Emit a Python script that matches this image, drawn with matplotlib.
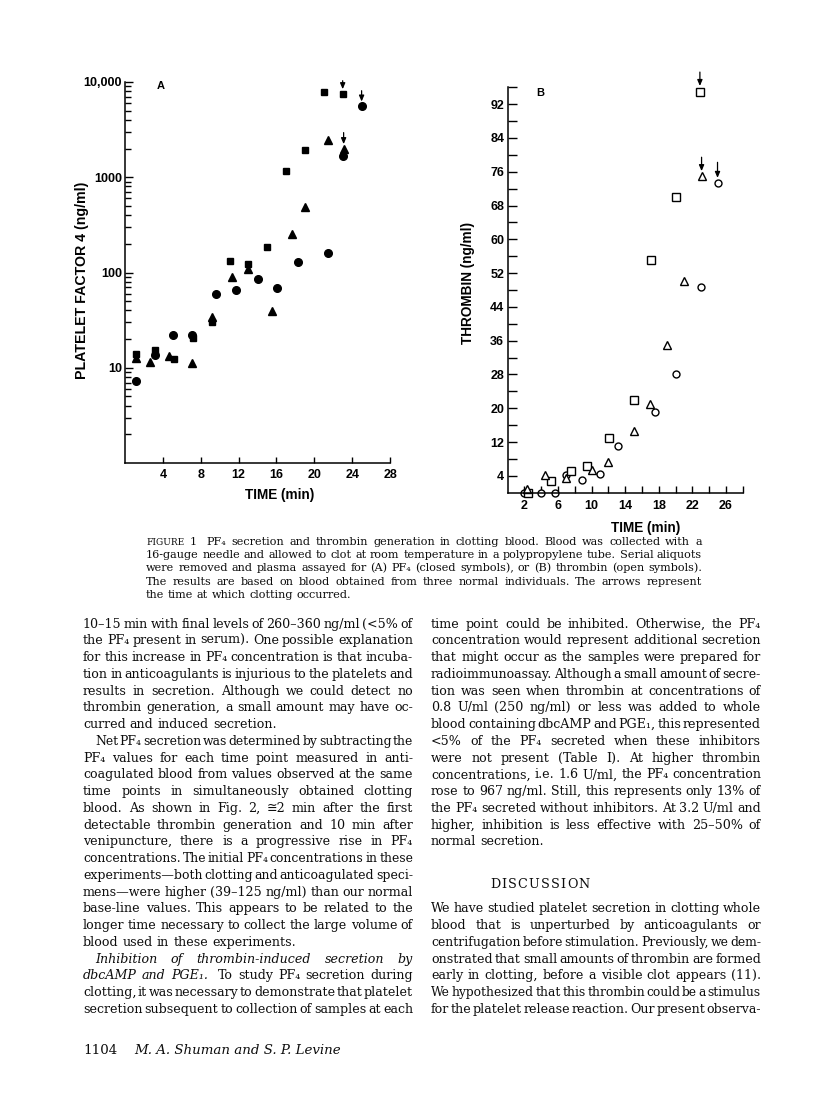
import matplotlib
matplotlib.use("Agg")
import matplotlib.pyplot as plt
from matplotlib.transforms import IdentityTransform
from matplotlib.ticker import FixedLocator, LogLocator, NullFormatter, FixedFormatter

W, H = 816, 1118

# ---- Panel A: PF4 (closed symbols), log scale ----
a_circ_t = [1.2, 3.2, 5.1, 7.1, 9.6, 11.7, 14.0, 16.1, 18.3, 21.5, 23.0, 25.0]
a_circ_v = [7.3, 13.6, 22, 22, 59, 65, 85, 68, 129, 160, 1680, 5600]
a_sq_t = [1.2, 3.2, 5.2, 7.2, 9.2, 11.1, 13.0, 15.0, 17.0, 19.0, 21.0, 23.0]
a_sq_v = [13.8, 15.2, 12.5, 20.5, 30, 131, 123, 184, 1150, 1930, 7800, 7500]
a_tri_t = [1.2, 2.6, 4.6, 7.1, 9.2, 11.3, 13.0, 15.5, 17.6, 19.0, 21.5, 23.1]
a_tri_v = [12.7, 11.6, 13.4, 11.1, 34, 89, 108, 39, 256, 490, 2450, 2000]

# ---- Panel B: thrombin (open symbols) ----
b_circ_t = [2.0, 4.0, 5.6, 7.0, 8.9, 11.0, 13.1, 17.5, 20.1, 23.0, 25.0]
b_circ_v = [0, 0, 0, 4.1, 3.0, 4.5, 11, 19, 28, 48.8, 73.3]
b_sq_t = [2.4, 5.1, 7.6, 9.5, 12.1, 15.1, 17.1, 20.0, 22.9]
b_sq_v = [0, 2.7, 5.1, 6.4, 13, 22, 55, 70, 95]
b_tri_t = [2.3, 4.5, 7.0, 10.0, 12.0, 15.1, 17.0, 19.0, 21.0, 23.1]
b_tri_v = [0.9, 4.1, 3.5, 5.3, 7.3, 14.7, 21, 35, 50.2, 75]

a_yticks = [10, 100, 1000, 10000]
a_ylabels = ["10", "100", "1000", "10,000"]
a_xticks = [4, 8, 12, 16, 20, 24, 28]
b_xlabels = [2, 6, 10, 14, 18, 22, 26]
b_ylabels = [4, 12, 20, 28, 36, 44, 52, 60, 68, 76, 84, 92]

SANS = ["Liberation Sans", "DejaVu Sans"]
SERIF = ["DejaVu Serif", "DejaVu Sans"]
INK = "#0d0d0d"

fig = plt.figure(figsize=(W / 100, H / 100), dpi=100)
fig.patch.set_facecolor("white")


def ax_rect(x0, x1, ytop, ybot):
    return [x0 / W, (H - ybot) / H, (x1 - x0) / W, (ybot - ytop) / H]


def style_axes(ax):
    for s in ["top", "right"]:
        ax.spines[s].set_visible(False)
    for s in ["left", "bottom"]:
        ax.spines[s].set_linewidth(1.1)
    ax.tick_params(which="both", direction="in", width=1.0, colors="black")
    for lab in ax.get_xticklabels() + ax.get_yticklabels():
        lab.set_fontfamily(SANS)
        lab.set_fontweight("bold")
        lab.set_fontsize(9)


def clot_arrow(ax, x, y, off, gap):
    ax.annotate("", xy=(x, y), xytext=(0, off), textcoords="offset points",
                annotation_clip=False,
                arrowprops=dict(arrowstyle="-|>,head_length=0.35,head_width=0.15",
                                color="black", lw=0.9, shrinkA=0, shrinkB=gap))


# ---------- Panel A ----------
axA = fig.add_axes(ax_rect(125, 390, 82, 463))
axA.set_yscale("log")
kw = dict(ls="none", color="black", clip_on=False)
axA.plot(a_circ_t, a_circ_v, "o", ms=5.5, **kw)
axA.plot(a_sq_t, a_sq_v, "s", ms=5.0, **kw)
axA.plot(a_tri_t, a_tri_v, "^", ms=6, **kw)
axA.set_xlim(0, 28)
axA.set_ylim(1, 10000)
axA.xaxis.set_major_locator(FixedLocator(a_xticks))
axA.yaxis.set_major_locator(FixedLocator(a_yticks))
axA.yaxis.set_major_formatter(FixedFormatter(a_ylabels))
axA.yaxis.set_minor_locator(LogLocator(base=10, subs=range(2, 10)))
axA.yaxis.set_minor_formatter(NullFormatter())
axA.tick_params(axis="y", which="major", length=6, pad=2)
axA.tick_params(axis="y", which="minor", length=4.5, width=0.9)
axA.tick_params(axis="x", which="major", length=4.5, pad=4)
style_axes(axA)
axA.set_xlabel("TIME (min)", fontfamily=SANS, fontweight="bold", fontsize=9.8)
axA.xaxis.set_label_coords(0.585, -0.066)
axA.set_ylabel("PLATELET FACTOR 4 (ng/ml)", fontfamily=SANS, fontweight="bold", fontsize=10.2)
axA.yaxis.set_label_coords(-0.135, 0.48)
axA.text(0.135, 0.99, "A", transform=axA.transAxes, fontfamily=SANS,
         fontweight="bold", fontsize=8, va="center", ha="center")
clot_arrow(axA, a_sq_t[-1], a_sq_v[-1], 9.5, 3.4)
clot_arrow(axA, a_circ_t[-1], a_circ_v[-1], 11, 3.2)
clot_arrow(axA, a_tri_t[-1], a_tri_v[-1], 11.5, 3.2)

# ---------- Panel B ----------
axB = fig.add_axes(ax_rect(507.7, 742.7, 87.3, 492.7))
okw = dict(ls="none", mfc="white", mec="black", mew=1.0, clip_on=False)
axB.plot(b_circ_t, b_circ_v, "o", ms=5, **okw)
axB.plot(b_sq_t, b_sq_v, "s", ms=5.4, **okw)
axB.plot(b_tri_t, b_tri_v, "^", ms=6.2, **okw)
axB.set_xlim(0, 28)
axB.set_ylim(0, 96)
axB.xaxis.set_major_locator(FixedLocator(b_xlabels))
axB.xaxis.set_minor_locator(FixedLocator(range(4, 29, 4)))
axB.yaxis.set_major_locator(FixedLocator(b_ylabels))
axB.yaxis.set_minor_locator(FixedLocator(range(8, 97, 8)))
axB.tick_params(axis="y", which="both", length=6.5, pad=2.5)
axB.tick_params(axis="x", which="both", length=5, pad=5)
axB.tick_params(which="minor", width=1.0)
style_axes(axB)
axB.set_xlabel("TIME (min)", fontfamily=SANS, fontweight="bold", fontsize=9.8)
axB.xaxis.set_label_coords(0.589, -0.069)
axB.set_ylabel("THROMBIN (ng/ml)", fontfamily=SANS, fontweight="bold", fontsize=9.8)
axB.yaxis.set_label_coords(-0.139, 0.517)
axB.text(0.139, 0.985, "B", transform=axB.transAxes, fontfamily=SANS,
         fontweight="bold", fontsize=8, va="center", ha="center")
clot_arrow(axB, b_sq_t[-1], b_sq_v[-1], 14, 4)
clot_arrow(axB, b_tri_t[-1], b_tri_v[-1], 13.5, 3.5)
clot_arrow(axB, b_circ_t[-1], b_circ_v[-1], 15, 3.8)

# ---------- page text ----------
renderer = fig.canvas.get_renderer()
ID = IdentityTransform()


def make_words(toks, size, style, family):
    objs, widths = [], []
    for tok in toks:
        st, sz = style, size
        if tok.startswith("_"):
            tok, st = tok[1:], "italic"
        if tok.startswith("^"):
            tok, sz = tok[1:], size * 0.8
        t = fig.text(0, 0, tok, fontsize=sz, fontstyle=st, fontfamily=family,
                     transform=ID, va="baseline", ha="left", color=INK)
        objs.append(t)
        widths.append(t.get_window_extent(renderer).width if tok else 0)
    return objs, widths


def draw_line(x0, x1, y, text, size, justify=True, family=SERIF, style="normal"):
    toks = text.split(" ")
    n = len(toks)
    objs, widths = make_words(toks, size, style, family)
    space = size * 100 / 72 * 0.32
    # squeeze font slightly if the line would not fit with a minimal gap
    need = sum(widths) + (n - 1) * space * 0.4
    if justify and need > x1 - x0:
        for t in objs:
            t.remove()
        size = size * (x1 - x0) / need
        space = size * 100 / 72 * 0.32
        objs, widths = make_words(toks, size, style, family)
    if justify and n > 1:
        gap = (x1 - x0 - sum(widths)) / (n - 1)
    else:
        gap = space
    x = x0
    for t, w in zip(objs, widths):
        t.set_position((x, H - y - 3.6))
        x += w + gap


def draw_column(x0, x1, y0, lines, size, step=16.75):
    for i, ln in enumerate(lines):
        if ln is None:
            continue
        txt, just, indent = ln
        draw_line(x0 + indent, x1, y0 + i * step, txt, size, just)


caption = [
    "^FIGURE 1  PF₄ secretion and thrombin generation in clotting blood. Blood was collected with a",
    "16-gauge needle and allowed to clot at room temperature in a polypropylene tube. Serial aliquots",
    "were removed and plasma assayed for (A) PF₄ (closed symbols), or (B) thrombin (open symbols).",
    "The results are based on blood obtained from three normal individuals. The arrows represent",
    "the time at which clotting occurred.",
]
for i, ln in enumerate(caption):
    draw_line(146, 702, 541 + i * 13.4, ln, 8.1, justify=(i < len(caption) - 1))

left = [
    ("10–15 min with final levels of 260–360 ng/ml (<5% of", True, 0),
    ("the PF₄ present in serum). One possible explanation", True, 0),
    ("for this increase in PF₄ concentration is that incuba-", True, 0),
    ("tion in anticoagulants is injurious to the platelets and", True, 0),
    ("results in secretion. Although we could detect no", True, 0),
    ("thrombin generation, a small amount may have oc-", True, 0),
    ("curred and induced secretion.", False, 0),
    ("Net PF₄ secretion was determined by subtracting the", True, 12),
    ("PF₄ values for each time point measured in anti-", True, 0),
    ("coagulated blood from values observed at the same", True, 0),
    ("time points in simultaneously obtained clotting", True, 0),
    ("blood. As shown in Fig. 2, ≅2 min after the first", True, 0),
    ("detectable thrombin generation and 10 min after", True, 0),
    ("venipuncture, there is a progressive rise in PF₄", True, 0),
    ("concentrations. The initial PF₄ concentrations in these", True, 0),
    ("experiments—both clotting and anticoagulated speci-", True, 0),
    ("mens—were higher (39–125 ng/ml) than our normal", True, 0),
    ("base-line values. This appears to be related to the", True, 0),
    ("longer time necessary to collect the large volume of", True, 0),
    ("blood used in these experiments.", False, 0),
    ("_Inhibition _of _thrombin-induced _secretion _by", True, 12),
    ("_dbcAMP _and _PGE₁.  To study PF₄ secretion during", True, 0),
    ("clotting, it was necessary to demonstrate that platelet", True, 0),
    ("secretion subsequent to collection of samples at each", True, 0),
]
draw_column(83, 413, 624, left, 9.1)

right = [
    ("time point could be inhibited. Otherwise, the PF₄", True, 0),
    ("concentration would represent additional secretion", True, 0),
    ("that might occur as the samples were prepared for", True, 0),
    ("radioimmunoassay. Although a small amount of secre-", True, 0),
    ("tion was seen when thrombin at concentrations of", True, 0),
    ("0.8 U/ml (250 ng/ml) or less was added to whole", True, 0),
    ("blood containing dbcAMP and PGE₁, this represented", True, 0),
    ("<5% of the PF₄ secreted when these inhibitors", True, 0),
    ("were not present (Table I). At higher thrombin", True, 0),
    ("concentrations, i.e. 1.6 U/ml, the PF₄ concentration", True, 0),
    ("rose to 967 ng/ml. Still, this represents only 13% of", True, 0),
    ("the PF₄ secreted without inhibitors. At 3.2 U/ml and", True, 0),
    ("higher, inhibition is less effective with 25–50% of", True, 0),
    ("normal secretion.", False, 0),
    None, None, None,
    ("We have studied platelet secretion in clotting whole", True, 0),
    ("blood that is unperturbed by anticoagulants or", True, 0),
    ("centrifugation before stimulation. Previously, we dem-", True, 0),
    ("onstrated that small amounts of thrombin are formed", True, 0),
    ("early in clotting, before a visible clot appears (11).", True, 0),
    ("We hypothesized that this thrombin could be a stimulus", True, 0),
    ("for the platelet release reaction. Our present observa-", True, 0),
]
draw_column(431, 761, 624, right, 9.1)

# letter-spaced heading
head = "DISCUSSION"
hx = 490
for ch in head:
    t = fig.text(hx, H - 883 - 4.5, ch, fontfamily=SERIF, fontsize=9.2,
                 transform=ID, ha="left", va="baseline", color=INK)
    hx += t.get_window_extent(renderer).width + 1.2

fig.text(83 / W, (H - 1050) / H, "1104", fontfamily=SERIF, fontsize=9.6,
         ha="left", va="center", color=INK)
fig.text(134 / W, (H - 1050) / H, "M. A. Shuman and S. P. Levine", fontfamily=SERIF,
         fontstyle="italic", fontsize=9.6, ha="left", va="center", color=INK)

fig.savefig("out.png", dpi=100, facecolor="white")
